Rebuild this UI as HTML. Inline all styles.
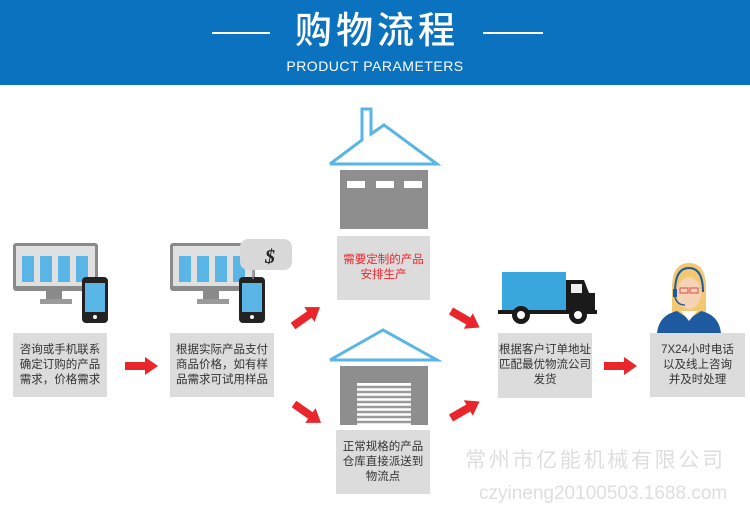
<!DOCTYPE html>
<html><head><meta charset="utf-8"><style>
*{margin:0;padding:0;box-sizing:border-box}
body{width:750px;height:525px;background:#fff;position:relative;overflow:hidden;font-family:"Liberation Sans","Noto Sans CJK SC",sans-serif}
.hdr{position:absolute;left:0;top:0;width:750px;height:85px;background:#0a72bf}
.t{position:absolute;left:0;width:750px;text-align:center;color:#fff}
.box{position:absolute;background:#dcdcdc;color:#333;font-size:11.5px;line-height:15px;text-align:center;display:flex;align-items:center;justify-content:center}
.wm{position:absolute;color:#dedede;font-size:21px;white-space:nowrap}
svg{position:absolute;left:0;top:0}
</style></head><body>
<div class="hdr"></div>
<div class="t" style="top:8px;font-size:37px;line-height:46px;font-weight:500;letter-spacing:4px;padding-left:4px">购物流程</div>
<div class="t" style="top:57px;font-size:14px;line-height:18px;letter-spacing:0.5px">PRODUCT PARAMETERS</div>
<div style="position:absolute;left:212px;top:32px;width:58px;height:2px;background:#fff"></div>
<div style="position:absolute;left:483px;top:32px;width:60px;height:2px;background:#fff"></div>

<svg width="750" height="525" viewBox="0 0 750 525">
<defs>
<g id="arr"><polygon points="0,-4 20,-4 20,-9 33,0 20,9 20,4 0,4" fill="#e8262b"/></g>
<g id="mon">
<rect x="0" y="0" width="85" height="48" rx="3" fill="#8a8a8a"/>
<rect x="3" y="3" width="79" height="40" fill="#e0e0e0"/>
<rect x="9" y="13" width="12" height="26" fill="#58b5e6"/>
<rect x="27" y="13" width="12" height="26" fill="#58b5e6"/>
<rect x="45" y="13" width="12" height="26" fill="#58b5e6"/>
<rect x="63" y="13" width="12" height="26" fill="#58b5e6"/>
<rect x="33" y="48" width="16" height="10" fill="#8a8a8a"/>
<rect x="27" y="56" width="32" height="5" fill="#9a9a9a"/>
<rect x="69" y="34" width="26" height="46" rx="4" fill="#222"/>
<rect x="72" y="40" width="20" height="29" fill="#58b5e6"/>
<circle cx="82" cy="74" r="2" fill="#fff"/>
</g>
</defs>
<use href="#mon" x="13" y="243"/>
<use href="#mon" x="170" y="243"/>
<rect x="240" y="239" width="52" height="31" rx="8" fill="#d8d8d8"/>
<line x1="253" y1="270" x2="253" y2="279" stroke="#bbb" stroke-width="1"/>
<text x="265" y="263" font-size="20" font-weight="bold" fill="#222" font-family="Liberation Serif,serif" font-style="italic">$</text>

<use href="#arr" x="125" y="366"/>
<use href="#arr" transform="translate(293,326) rotate(-35)"/>
<use href="#arr" transform="translate(294,404) rotate(35)"/>
<use href="#arr" transform="translate(451,311) rotate(30)"/>
<use href="#arr" transform="translate(451,418) rotate(-30)"/>
<use href="#arr" x="604" y="366"/>

<polyline points="330,164 362,140 362,109 371,109 371,134 384,125 437,164 330,164" fill="none" stroke="#58b5e6" stroke-width="3" stroke-linejoin="miter"/>
<rect x="340" y="170" width="88" height="59" fill="#8e8e8e"/>
<rect x="347" y="181" width="18" height="7" fill="#fff"/>
<rect x="376" y="181" width="18" height="7" fill="#fff"/>
<rect x="404" y="181" width="18" height="7" fill="#fff"/>
<polyline points="330,360 383,330 437,360 330,360" fill="none" stroke="#58b5e6" stroke-width="3"/>
<rect x="340" y="366" width="88" height="59" fill="#8e8e8e"/>
<rect x="357" y="383" width="54" height="42" fill="#fff"/>
<g stroke="#9a9a9a" stroke-width="2.5">
<line x1="357" y1="387" x2="411" y2="387"/><line x1="357" y1="392" x2="411" y2="392"/><line x1="357" y1="397" x2="411" y2="397"/><line x1="357" y1="402" x2="411" y2="402"/><line x1="357" y1="407" x2="411" y2="407"/><line x1="357" y1="412" x2="411" y2="412"/><line x1="357" y1="417" x2="411" y2="417"/><line x1="357" y1="422" x2="411" y2="422"/>
</g>

<rect x="502" y="272" width="64" height="40" fill="#39a6de"/>
<path d="M566,280 h18 l5,13 h6 v20 h-29 z" fill="#1a1a1a"/>
<rect x="571" y="284" width="11" height="9" fill="#eee"/>
<rect x="498" y="310" width="99" height="4" fill="#1a1a1a"/>
<circle cx="521" cy="315" r="9" fill="#1a1a1a"/><circle cx="521" cy="315" r="4" fill="#fff"/>
<circle cx="578" cy="315" r="9" fill="#1a1a1a"/><circle cx="578" cy="315" r="4" fill="#fff"/>

<path d="M672,333 v-45 q0,-25 17,-25 q17,0 17,25 v45 z" fill="#f2c870"/>
<ellipse cx="689" cy="293" rx="12" ry="16" fill="#f6d3b5"/>
<path d="M677,290 q0,-22 12,-22 q12,0 12,22 q-4,-14 -12,-14 q-8,0 -12,14z" fill="#f2c870"/>
<rect x="680" y="288" width="8" height="5" fill="none" stroke="#e06060" stroke-width="1.2"/>
<rect x="690" y="288" width="8" height="5" fill="none" stroke="#e06060" stroke-width="1.2"/>
<path d="M675,292 q0,-24 14,-24 q14,0 14,24" fill="none" stroke="#1d5aa0" stroke-width="2"/>
<rect x="673" y="289" width="4" height="8" fill="#1d5aa0"/>
<path d="M675,297 q2,8 10,8" fill="none" stroke="#1d5aa0" stroke-width="1.5"/>
<path d="M657,333 q2,-18 20,-22 l12,8 l12,-8 q18,4 20,22 z" fill="#1d5aa0"/>
<path d="M681,311 l8,10 l8,-10 z" fill="#fff"/>
</svg>

<div class="box" style="left:13px;top:333px;width:94px;height:64px">咨询或手机联系<br>确定订购的产品<br>需求，价格需求</div>
<div class="box" style="left:170px;top:333px;width:104px;height:64px">根据实际产品支付<br>商品价格，如有样<br>品需求可试用样品</div>
<div class="box" style="left:337px;top:236px;width:93px;height:64px;color:#e8262b">需要定制的产品<br>安排生产</div>
<div class="box" style="left:336px;top:430px;width:94px;height:64px">正常规格的产品<br>仓库直接派送到<br>物流点</div>
<div class="box" style="left:498px;top:333px;width:94px;height:65px">根据客户订单地址<br>匹配最优物流公司<br>发货</div>
<div class="box" style="left:650px;top:333px;width:95px;height:64px">7X24小时电话<br>以及线上咨询<br>并及时处理</div>

<div class="wm" style="left:465px;top:444px;letter-spacing:2.7px">常州市亿能机械有限公司</div>
<div class="wm" style="left:479px;top:483px;font-size:19px">czyineng20100503.1688.com</div>
</body></html>
